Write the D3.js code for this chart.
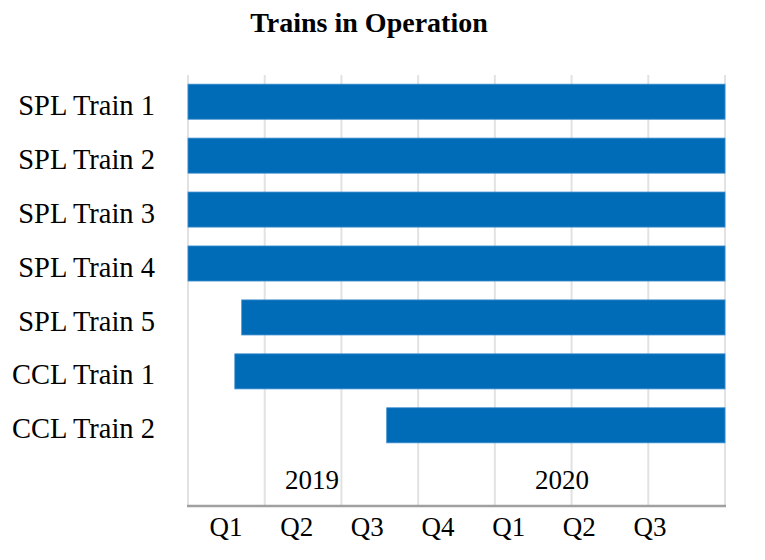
<!DOCTYPE html>
<html>
<head>
<meta charset="utf-8">
<script src="https://cdn.jsdelivr.net/npm/d3@7"></script>
<style>
body { margin: 0; background: #fff; }
text { font-family: "Liberation Serif", "Times New Roman", serif; fill: #000; }
</style>
</head>
<body>
<div id="chart"></div>
<script>
// trains and their operating span, measured in quarters from 2019 Q1 start
var trains = ['SPL Train 1', 'SPL Train 2', 'SPL Train 3', 'SPL Train 4',
              'SPL Train 5', 'CCL Train 1', 'CCL Train 2'];
var starts = [0, 0, 0, 0, 0.7, 0.61, 2.59];
var ends = [7, 7, 7, 7, 7, 7, 7];
var quarters = ['Q1', 'Q2', 'Q3', 'Q4', 'Q1', 'Q2', 'Q3'];
var years = ['2019', '2020'];

var W = 765, H = 560;
var plot = {left: 188, right: 725, top: 75, bottom: 505};

var svg = d3.select('#chart').append('svg')
            .attr('width', W).attr('height', H);

var x = d3.scaleLinear().domain([0, quarters.length]).range([plot.left, plot.right]);
var y = d3.scaleBand().domain(trains).range([plot.top, 452])
          .paddingInner(0.35).paddingOuter(0.17);

// title
svg.append('text')
   .attr('x', 369).attr('y', 32)
   .attr('text-anchor', 'middle')
   .style('font-size', '28px').style('font-weight', 'bold')
   .text('Trains in Operation');

// vertical grid lines, one per quarter boundary
svg.append('g').selectAll('line')
   .data(d3.range(quarters.length + 1))
   .enter().append('line')
   .attr('x1', function (d) { return x(d); })
   .attr('x2', function (d) { return x(d); })
   .attr('y1', plot.top).attr('y2', plot.bottom)
   .attr('stroke', '#e2e2e2').attr('stroke-width', 2);

// bars
svg.append('g').selectAll('rect')
   .data(trains)
   .enter().append('rect')
   .attr('x', function (d, i) { return x(starts[i]); })
   .attr('y', function (d) { return y(d); })
   .attr('width', function (d, i) { return x(ends[i]) - x(starts[i]); })
   .attr('height', y.bandwidth())
   .attr('fill', '#006BB6')
   .attr('stroke', '#3f8fcf').attr('stroke-width', 0.8);

// train labels
svg.append('g').selectAll('text')
   .data(trains)
   .enter().append('text')
   .attr('x', 155)
   .attr('y', function (d) { return y(d) + y.bandwidth() / 2; })
   .attr('dy', '0.46em')
   .attr('text-anchor', 'end')
   .style('font-size', '28.5px')
   .text(function (d) { return d; });

// x axis line
svg.append('line')
   .attr('x1', plot.left - 1).attr('x2', plot.right + 1)
   .attr('y1', plot.bottom + 1).attr('y2', plot.bottom + 1)
   .attr('stroke', '#a0a0a0').attr('stroke-width', 2.5);

// year labels inside the plot
var yearScale = d3.scalePoint().domain(years).range([312, 562]);
svg.append('g').selectAll('text')
   .data(years)
   .enter().append('text')
   .attr('x', function (d) { return yearScale(d); })
   .attr('y', 489)
   .attr('text-anchor', 'middle')
   .style('font-size', '27px')
   .text(function (d) { return d; });

// quarter labels below the axis
var qScale = d3.scalePoint().domain(d3.range(quarters.length)).range([226, 650]);
svg.append('g').selectAll('text')
   .data(quarters)
   .enter().append('text')
   .attr('x', function (d, i) { return qScale(i); })
   .attr('y', 536)
   .attr('text-anchor', 'middle')
   .style('font-size', '27px')
   .text(function (d) { return d; });
</script>
</body>
</html>
